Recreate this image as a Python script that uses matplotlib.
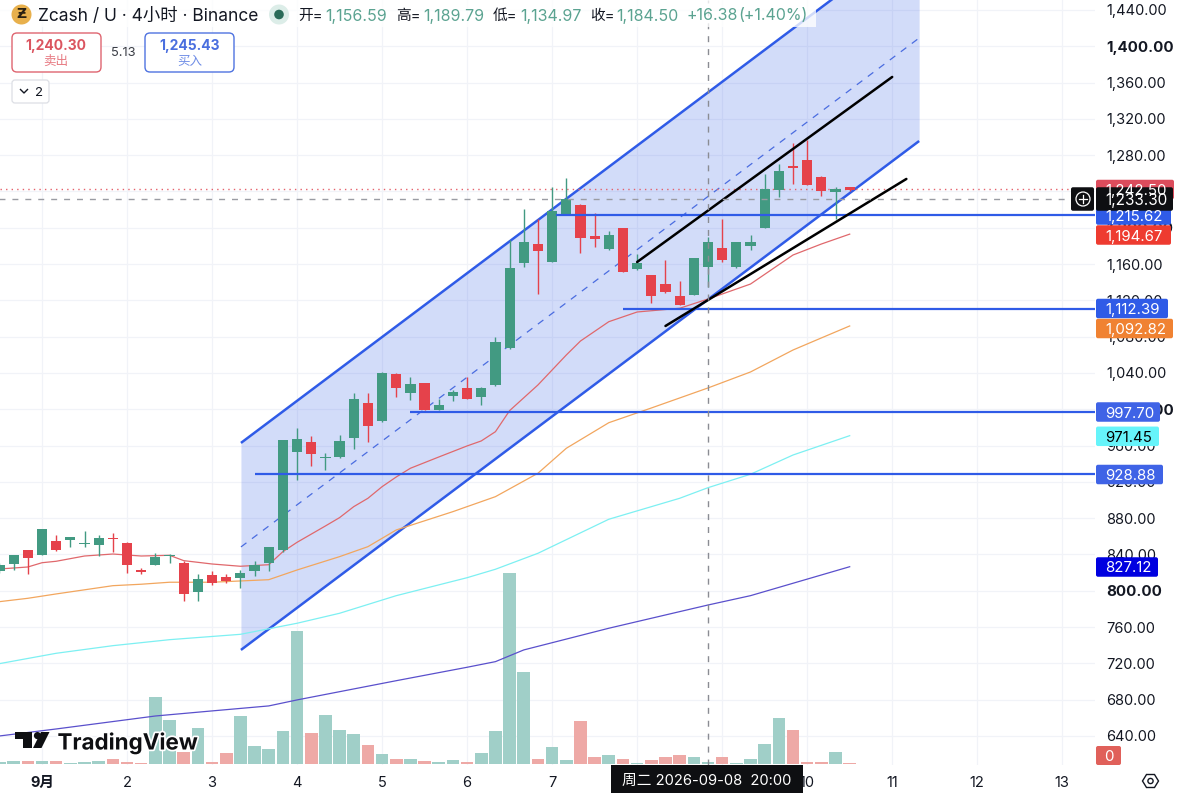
import numpy as np
import matplotlib
matplotlib.use('Agg')
import matplotlib.pyplot as plt
import matplotlib.patheffects as pe
from matplotlib.patches import FancyBboxPatch, Rectangle, Circle, Polygon

plt.rcParams['font.family'] = ['Inter', 'Noto Sans CJK SC', 'DejaVu Sans']

# 4h candles, bar 0 is the start of the "9月" day
bars = np.arange(-3, 58)
opens = [821.8, 829.5, 844.6, 839.1, 854.9, 855.6, 851.6, 850.5, 858.5, 853, 823.2, 828.1, 838.7, 830.6, 798.4, 817.1,
         815.2, 814.4, 822.1, 831, 845, 953.3, 964.3, 946.7, 947.4, 968.7, 1006.9, 987.1, 1038.9, 1018.3, 1028.6,
         999.6, 1014.3, 1023.8, 1013.6, 1026.8, 1067.9, 1161.2, 1182.5, 1162.6, 1214.9, 1225.1, 1191.3, 1177, 1199.8,
         1154.9, 1147.6, 1138.1, 1124.5, 1126.3, 1156.59, 1178.1, 1156.8, 1180.3, 1200.1, 1242, 1267.8, 1275, 1256.3,
         1239.1, 1244.9]
highs = [830.6, 839.4, 845, 868.5, 861.2, 859.5, 865.6, 861.2, 864, 853.5, 824.8, 841.3, 840.5, 832.8, 818.2, 821.8,
         818.5, 822.9, 832.8, 848.6, 966.5, 979.1, 970.6, 951.5, 971.7, 1018.3, 1018.3, 1041, 1039.5, 1035.3, 1029,
         1011, 1021.3, 1035.9, 1024, 1080, 1186.5, 1220.4, 1209.4, 1244.6, 1255.2, 1226, 1216, 1196.8, 1200,
         1171.1, 1148, 1164.5, 1141, 1167, 1189.79, 1209.4, 1184.5, 1192.1, 1259.3, 1270.3, 1293.8, 1296.7, 1257,
         1245.3, 1245]
lows = [819.6, 822.9, 818.5, 839, 844, 848.3, 847.9, 838.7, 842.8, 819.3, 818.5, 828, 830.3, 789.1, 789.1, 806.4,
        808.3, 803.4, 816.3, 822.1, 843.1, 922.1, 937.5, 933.1, 946.7, 956.6, 964.3, 986, 1013.2, 1010.2, 999,
        999, 1009.5, 1011, 1004.4, 1026, 1066.8, 1157.1, 1126.7, 1162, 1214, 1172.6, 1178.8, 1176, 1151,
        1153.5, 1117.5, 1128, 1115, 1126, 1134.97, 1162.6, 1156, 1175.5, 1200, 1233.6, 1248.3, 1247, 1235,
        1209.7, 1241]
closes = [828.1, 839.4, 836.5, 868.1, 844.6, 859.3, 853, 858.2, 856.7, 828.1, 821, 836.9, 839.8, 796.8, 812.7, 808.3,
          811.1, 819.9, 828.4, 847.9, 966.2, 967.6, 950.7, 947.8, 965.4, 1011, 981.3, 1039.7, 1023.1, 1027.5, 999.6,
          1004.4, 1019.1, 1011.7, 1023.8, 1073.8, 1156, 1184, 1174.4, 1218.5, 1231.4, 1189.1, 1187.3, 1192.4, 1151.3,
          1161.5, 1124.8, 1128.9, 1115.2, 1166.7, 1184.5, 1164.8, 1184, 1184.3, 1242.4, 1262.6, 1265.5, 1247.1, 1240.2,
          1242.4, 1241.3]
volumes = [1.7, 3.3, 2.7, 3.3, 2.7, 1.3, 2, 3.3, 5, 2, 1, 66.7, 43.7, 12.3, 35.7, 1.7, 11.3, 48, 17.7, 15, 32.7, 133,
           31.3, 49.3, 33.7, 30.3, 19.3, 10, 5.3, 5, 3.3, 2, 4, 1.7, 11, 33.3, 191, 92, 5.3, 16.7, 4.3, 43, 7.3, 8.7,
           5, 1, 4.3, 6.7, 8.7, 7.3, 2, 6.7, 1, 5, 20, 46, 33.7, 2, 1.7, 12, 1]

# moving averages
ma20_x = [-3, -1, 0, 1, 3, 5, 7, 9, 10, 12, 14, 16, 17, 18, 20, 21, 22, 23, 24, 25, 26, 28, 30, 31, 32, 33, 35, 37, 38,
          40, 42, 45, 47, 50, 53, 55, 57]
ma20_y = [824, 826.2, 830.9, 832.5, 838.3, 840.5, 838.3, 839.1, 833.2, 829.5, 827, 828.7, 843.1, 853.4, 871.4, 880.6,
          892.7, 901.9, 914.7, 925.4, 935, 947.4, 959.6, 965.1, 975.3, 998.5, 1026.8, 1059.8, 1075.2, 1096.5, 1107.2,
          1111.3, 1121.5, 1138, 1170, 1182.1, 1193]
ma50_x = [-3, -1, 1, 5, 7, 9, 12, 16, 18, 21, 23, 25, 29, 32, 35, 37, 40, 43, 47, 50, 53, 55, 57]
ma50_y = [788, 791.7, 796.5, 805.6, 807.2, 809.4, 809.4, 812.2, 822.9, 837.6, 848.6, 867, 887.2, 903.7, 929.5, 957,
          985.2, 1001.4, 1023.5, 1041.1, 1065.3, 1078.6, 1091.8]
ma100_x = [-3, 1, 5, 9, 14, 18, 21, 25, 30, 32, 35, 40, 45, 47, 50, 53, 57]
ma100_y = [719.7, 731.1, 739.5, 746.1, 752, 764.2, 775.2, 794.6, 814.4, 823.7, 841.3, 878.8, 901.9, 913.6, 928.4,
           949.6, 970.9]
ma200_x = [-3, 1, 8, 12, 16, 18, 25, 30, 32, 34, 40, 45, 47, 50, 57]
ma200_y = [640, 647.7, 662, 667.6, 673.1, 679.7, 700.9, 715.7, 721.9, 734.8, 758.7, 777, 784.3, 794.6, 826.5]

# drawings
channel_x = [14.04, 61.9]
channel_top = [962.9, 1523.7]
channel_mid = [848.3, 1409.1]
channel_bot = [734.8, 1295.6]
level_start = [15, 26, 41, 36.3]
level_price = [928.7, 997, 1110.5, 1214.1]
trend_x = [[42, 60], [44, 61]]
trend_y = [[1162.3, 1366.2], [1091.8, 1253.8]]

price_ticks = np.arange(640, 1441, 40)
bold_ticks = [800, 1000, 1200, 1400]
day_ticks = np.arange(0, 73, 6)
day_labels = ['9月', '2', '3', '4', '5', '6', '7', '8', '9', '10', '11', '12', '13']

# text, centre y in px, right edge px, box colour, text colour
price_tags = [('1,242.50', 189.5, 1174, '#DC4C5C', 'white'),
              ('1,215.62', 215, 1171, '#2F5BE7', 'white'),
              ('1,194.67', 235, 1171, '#EE3B30', 'white'),
              ('1,112.39', 308.5, 1168, '#2F5BE7', 'white'),
              ('1,092.82', 328.5, 1173, '#F08232', 'white'),
              ('997.70', 412, 1160, '#3F63E6', 'white'),
              ('971.45', 436.3, 1159, '#66F4FA', 'black'),
              ('928.88', 474.5, 1163, '#3F63E6', 'white'),
              ('827.12', 567, 1158, '#0000E0', 'white')]

GREEN = '#429A82'
RED = '#E5424B'
GREEN_VOL = '#A0CFC8'
RED_VOL = '#EEA9A6'
BLUE = '#2F5BE7'
PX = 14.17  # pixels per bar

fig = plt.figure(figsize=(12, 7.93), dpi=100)
ax = fig.add_axes([0, 1 - 765 / 793, 1095 / 1200, 765 / 793])
ax.set_xlim(-42 / PX, (1095 - 42) / PX)
ax.set_ylim(608.0, 1451.0)

ax.set_axisbelow(True)
ax.grid(True, color='#F1F3F8', lw=0.9)
ax.set_xticks(day_ticks)
ax.set_xticklabels(day_labels, fontsize=10.5, color='#131722')
ax.get_xticklabels()[0].set_fontweight('bold')
ax.yaxis.tick_right()
ax.set_yticks(price_ticks)
ax.set_yticklabels(['{:,.2f}'.format(p) for p in price_ticks], fontsize=10.5, color='#131722')
for lab, p in zip(ax.get_yticklabels(), price_ticks):
    if p in bold_ticks:
        lab.set_fontweight('bold')
        lab.set_fontsize(10.9)
ax.tick_params(axis='both', length=0)
ax.tick_params(axis='y', pad=8)
ax.tick_params(axis='x', pad=8)
for s in ax.spines.values():
    s.set_visible(False)

# volume sits in the same pane, 1 unit = 1 px above the base
vol_colors = [GREEN_VOL if c >= o else RED_VOL for o, c in zip(opens, closes)]
ax.bar(bars, np.array(volumes) * 1.1019, bottom=609.1, width=0.89, color=vol_colors, zorder=1)

# channel
ax.fill_between(channel_x, channel_bot, channel_top, color='#2F5BE7', alpha=0.21, lw=0, zorder=1.5)
ax.plot(channel_x, channel_top, color=BLUE, lw=1.8, zorder=2, solid_capstyle='butt')
ax.plot(channel_x, channel_bot, color=BLUE, lw=1.8, zorder=2, solid_capstyle='butt')
ax.plot(channel_x, channel_mid, color='#4A6CE0', lw=0.9, ls=(0, (5.5, 5.5)), zorder=2)

# moving averages
ax.plot(ma200_x, ma200_y, color='#5A50CC', lw=0.9, zorder=2.2)
ax.plot(ma100_x, ma100_y, color='#7DF0F2', lw=0.9, zorder=2.2)
ax.plot(ma50_x, ma50_y, color='#F2A65E', lw=0.9, zorder=2.2)
ax.plot(ma20_x, ma20_y, color='#E0686C', lw=0.9, zorder=2.2)

# candles
candle_colors = [GREEN if c >= o else RED for o, c in zip(opens, closes)]
ax.vlines(bars, lows, highs, color=candle_colors, lw=1.0, zorder=3)
body_low = np.minimum(opens, closes)
body_h = np.abs(np.array(closes) - np.array(opens))
ax.bar(bars, body_h, bottom=body_low, width=0.72, color=candle_colors, zorder=3.1)

# horizontal levels and trend lines
for start, price in zip(level_start, level_price):
    ax.plot([start, 80], [price, price], color=BLUE, lw=1.6, zorder=4, solid_capstyle='butt')
for tx, ty in zip(trend_x, trend_y):
    ax.plot(tx, ty, color='black', lw=1.8, zorder=4.2, solid_capstyle='round')

# last price and crosshair
ax.axhline(1242.2, color='#E5606A', lw=1.0, ls=(0, (1, 3)), zorder=2.5)
ax.plot([-4, (1072 - 42) / PX], [1231.7, 1231.7], color='#9A9CA3', lw=1.0, ls=(0, (4.3, 5)), zorder=5)
ax.axvline(47, color='#8A8C93', lw=1.0, ls=(0, (4.3, 5)), zorder=5)

# everything that is chart chrome goes on a pixel overlay
ov = fig.add_axes([0, 0, 1, 1], zorder=10)
ov.set_xlim(0, 1200)
ov.set_ylim(793, 0)
ov.axis('off')


def tag(x0, x1, yc, color, h=19.5):
    ov.add_patch(FancyBboxPatch((x0 + 1, yc - h / 2 + 1), x1 - x0 - 2, h - 2, boxstyle='round,pad=1,rounding_size=2',
                                fc=color, ec='none', zorder=2))


for text, yc, x1, fc, tc in price_tags:
    tag(1096, x1, yc, fc)
    ov.text(1105.5, yc, text, fontsize=10.8, color=tc, va='center_baseline', ha='left', zorder=3)

# crosshair price tag with plus button
tag(1071, 1094, 199, '#0E0F12', h=23.5)
tag(1096, 1173, 199, '#0E0F12', h=23.5)
ov.add_patch(Circle((1083, 199), 7, fc='none', ec='white', lw=0.9, zorder=4))
ov.plot([1079, 1087], [199, 199], color='white', lw=0.9, zorder=4)
ov.plot([1083, 1083], [195, 203], color='white', lw=0.9, zorder=4)
ov.text(1105.5, 199, '1,233.30', fontsize=11, color='white', va='center_baseline', zorder=5)

# volume tag
tag(1096, 1121, 755.5, '#E0605A', h=19)
ov.text(1109, 755.5, '0', fontsize=10.8, color='white', ha='center', va='center_baseline', zorder=3)

# time tag
ov.add_patch(Rectangle((611, 765), 192, 28, fc='#0E0F12', ec='none', zorder=2))
ov.text(707, 779, '周二 2026-09-08  20:00', fontsize=10.6, color='white', ha='center', va='center_baseline', zorder=3)

# settings hexagon
ang = np.radians(np.arange(0, 360, 60))
ov.add_patch(Polygon(np.c_[1150.5 + 8 * np.cos(ang), 781 + 7.5 * np.sin(ang)], fc='none', ec='#131722', lw=1.0))
ov.add_patch(Circle((1150.5, 781), 2.6, fc='none', ec='#131722', lw=1.0))

# header
ov.add_patch(Rectangle((0, 0), 816, 27, fc='white', ec='none', alpha=0.78, zorder=0.5))
ov.add_patch(Circle((21.5, 14.5), 10, fc='#E8B04C', ec='none', zorder=1))
ov.text(21.5, 14.5, 'Ƶ', fontsize=10, fontweight='bold', color='#2B2112', ha='center', va='center', zorder=2,
        family='DejaVu Sans')
ov.text(38, 14.5, 'Zcash / U · 4小时 · Binance', fontsize=12.5, color='#131722', va='center_baseline')
ov.add_patch(Circle((279, 14.5), 10, fc='#DCEDE8', ec='none', zorder=1))
ov.add_patch(Circle((279, 14.5), 4.8, fc='#2A6B58', ec='none', zorder=2))

ohlc_names = ['开=', '高=', '低=', '收=']
ohlc_vals = ['1,156.59', '1,189.79', '1,134.97', '1,184.50']
name_x = [298, 396, 493, 590]
val_x = [325, 423, 520, 616]
for nm, val, nx, vx in zip(ohlc_names, ohlc_vals, name_x, val_x):
    ov.text(nx, 14.5, nm, fontsize=10.6, color='#131722', va='center_baseline')
    ov.text(vx, 14.5, val, fontsize=11.5, color='#5BA391', va='center_baseline')
ov.text(686, 14.5, '+16.38', fontsize=11.5, color='#5BA391', va='center_baseline')
ov.text(808, 14.5, '(+1.40%)', fontsize=11.5, color='#5BA391', va='center_baseline', ha='right')

# sell / buy buttons
ov.add_patch(FancyBboxPatch((14, 35), 85, 35, boxstyle='round,pad=2,rounding_size=5', fc='white', ec='#DF6570', lw=1.0))
ov.text(56, 44.5, '1,240.30', fontsize=10, fontweight='bold', color='#DB5560', ha='center', va='center_baseline')
ov.text(56, 60.5, '卖出', fontsize=9, color='#E77A82', ha='center', va='center_baseline')
ov.text(123, 52, '5.13', fontsize=9.3, color='#3A3D45', ha='center', va='center_baseline')
ov.add_patch(FancyBboxPatch((147, 35), 85, 35, boxstyle='round,pad=2,rounding_size=5', fc='white', ec='#4F73E0', lw=1.0))
ov.text(189.5, 44.5, '1,245.43', fontsize=10, fontweight='bold', color='#4A6FDF', ha='center', va='center_baseline')
ov.text(189.5, 60.5, '买入', fontsize=9, color='#6E8CE6', ha='center', va='center_baseline')

# collapse button
ov.add_patch(FancyBboxPatch((14, 82), 33, 19, boxstyle='round,pad=2,rounding_size=3', fc='white', ec='#DDDFE5', lw=0.9))
ov.plot([20.5, 24, 27.5], [89.5, 93, 89.5], color='#131722', lw=1.0)
ov.text(39.5, 92, '2', fontsize=9.5, color='#131722', ha='center', va='center_baseline')

# TradingView logo
ov.add_patch(Polygon([(15, 732), (32, 732), (32, 748), (23, 748), (23, 739), (15, 739)], fc='#0E0F12', ec='none'))
ov.add_patch(Circle((37.5, 735.6), 3.6, fc='#0E0F12', ec='none'))
ov.add_patch(Polygon([(41, 732), (49.5, 732), (41.5, 748), (33, 748)], fc='#0E0F12', ec='none'))
ov.text(57.5, 741, 'TradingView', fontsize=16.1, fontweight='bold', color='#0E0F12', va='center_baseline',
        path_effects=[pe.withStroke(linewidth=2.5, foreground='white')])

fig.savefig('out.png', dpi=100)
